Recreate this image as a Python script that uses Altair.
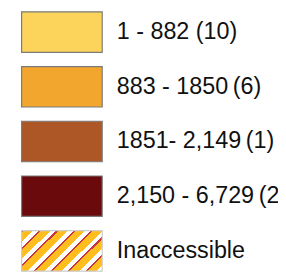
import altair as alt
import pandas as pd

labels = ["1 - 882 (10)", "883 - 1850\u2009(6)", "1851- 2,149\u2009(1)", "2,150 - 6,729\u2009(2)", "Inaccessible"]
classes = ["c1", "c2", "c3", "c4", "inacc"]
fills = ["#FDD45B", "#F2A62E", "#AD5727", "#6B0A0D"]

df = pd.DataFrame({"cls": classes, "label": labels, "order": list(range(len(classes)))})

yscale = alt.Scale(paddingInner=0.26, paddingOuter=0)
yenc = alt.Y("cls:N", sort=classes, axis=None, scale=yscale)

# hatch via repeating hard-stop linear gradient
stops = []
n = 7
for i in range(n):
    a = i / n
    p = 1 / n
    stops += [
        alt.GradientStop(offset=a, color="#C8343A"),
        alt.GradientStop(offset=a + p * 0.12, color="#C8343A"),
        alt.GradientStop(offset=a + p * 0.12, color="#FFBE1E"),
        alt.GradientStop(offset=a + p * 0.66, color="#FFBE1E"),
        alt.GradientStop(offset=a + p * 0.66, color="#FFFFFF"),
        alt.GradientStop(offset=a + p, color="#FFFFFF"),
    ]
hatch = alt.LinearGradient(gradient="linear", stops=stops, x1=0, y1=0, x2=1.2, y2=0.607)

base = alt.Chart(df)

boxes = base.transform_filter(alt.datum.cls != "inacc").mark_rect(
    stroke="#7a7a7a", strokeWidth=1.2
).encode(
    y=yenc,
    x=alt.value(14), x2=alt.value(97),
    fill=alt.Fill("cls:N", scale=alt.Scale(domain=classes[:4], range=fills), legend=None),
)

hatchbox = base.transform_filter(alt.datum.cls == "inacc").mark_rect(
    stroke="#cccccc", strokeWidth=1.2, fill=hatch
).encode(
    y=yenc,
    x=alt.value(14), x2=alt.value(97),
)

texts = base.mark_text(
    align="left", baseline="alphabetic", font="Liberation Sans", fontSize=24,
    color="#111111", dy=7
).encode(
    y=alt.Y("cls:N", sort=classes, axis=None, bandPosition=0.5, scale=yscale),
    x=alt.value(112),
    text="label:N",
)

chart = alt.layer(boxes, hatchbox, texts).properties(
    width=278, height=267, padding=0, autosize=alt.AutoSizeParams(type="none")
).configure_view(stroke=None)

chart.save("out.html", embed_options={"renderer": "svg", "actions": False})
